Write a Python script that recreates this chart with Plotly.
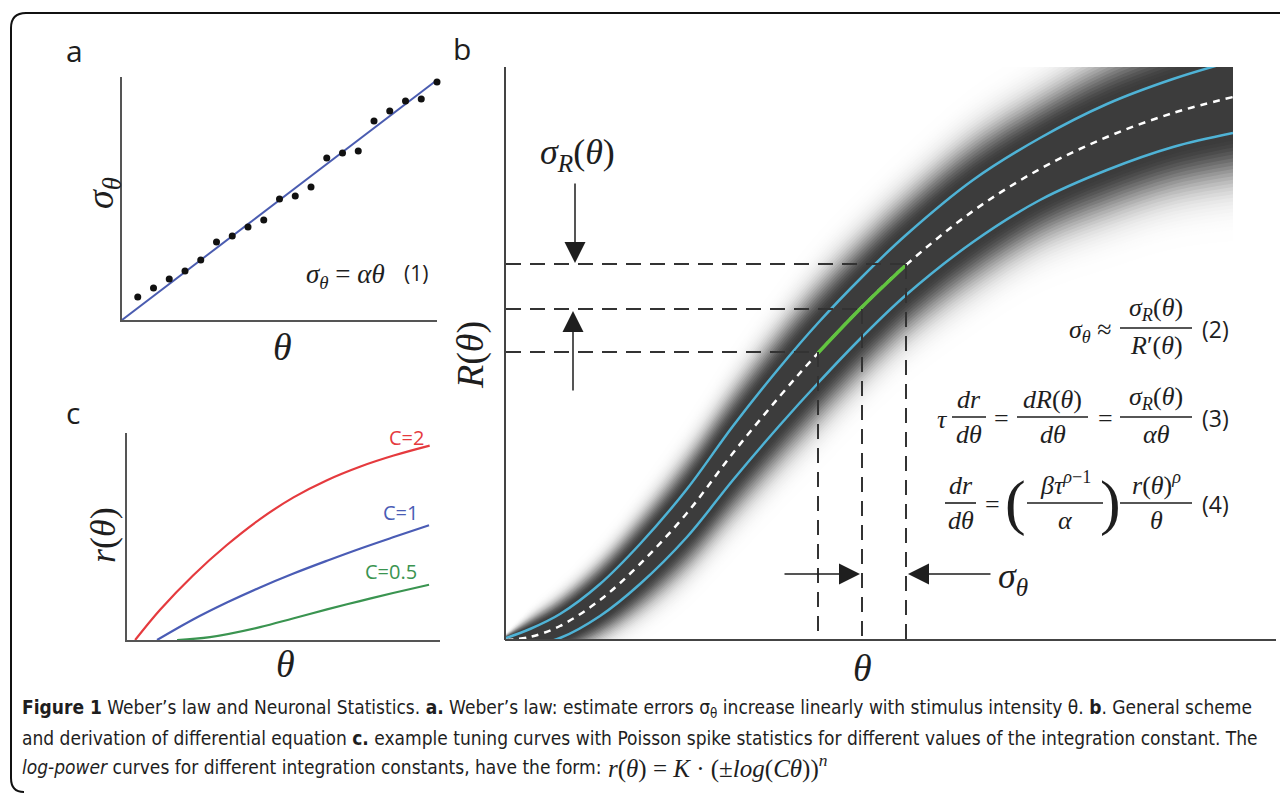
import math
import plotly.graph_objects as go

W, H = 1280, 793
def px(x): return x / W
def py(y): return 1 - y / H

# ---------------- data ----------------
# panel a : Weber's law scatter
a_theta = list(range(1, 21))
a_sigma = [1.92, 2.67, 3.42, 4.08, 5.0, 6.5, 7.0, 7.75, 8.33, 10.08,
           10.33, 11.08, 13.5, 13.92, 14.08, 16.58, 17.42, 18.25, 18.42, 19.83]
a_fit_theta = [0, 20]
a_fit_sigma = [0, 20]

# panel c : log-power tuning curves
c2_theta = [0.26, 1.05, 2.11, 3.19, 4.25, 5.32, 6.39, 7.44, 8.52, 9.67]
c2_r = [0, 1.45, 3.12, 4.59, 5.84, 6.89, 7.72, 8.37, 8.91, 9.39]
c1_theta = [0.96, 2.11, 3.19, 4.25, 5.30, 6.39, 7.44, 8.50, 9.65]
c1_r = [0, 0.99, 1.81, 2.54, 3.20, 3.83, 4.41, 4.96, 5.54]
c05_theta = [1.6, 2.65, 4.25, 5.30, 6.39, 7.44, 8.50, 9.65]
c05_r = [0, 0.14, 0.62, 1.04, 1.48, 1.88, 2.27, 2.67]
c_labels = ["C=2", "C=1", "C=0.5"]

# panel b : tuning curve R(theta) with noise band
b_theta = [0, 24, 54, 94, 134, 181, 227, 274, 312, 356, 400, 467, 534, 601, 667, 727]
b_R = [0, 3, 14, 40, 76, 127, 187, 244, 287, 333, 375, 429, 471, 503, 527, 543]
b_R_upper = [2, 11, 26, 56, 96, 151, 214, 273, 317, 363, 405, 460, 502, 536, 561, 579]
b_R_lower = [-2, -5, 2, 24, 56, 103, 160, 215, 257, 303, 345, 398, 440, 470, 493, 507]
b_green_theta = [312, 356, 400]
b_green_R = [287, 333, 375]
b_levels_R = [376, 331, 288]       # dashed horizontal levels
b_levels_theta = [400, 356, 312]   # dashed vertical positions

# ---------------- figure ----------------
fig = go.Figure()
shapes, annotations = [], []
SERIF = "Liberation Serif, DejaVu Serif, serif"
SANS = "Open Sans, Noto Sans, sans-serif"
INK = "#1e1e1e"

# blurred band (panel b)
ks = [round(4.6 - 0.1 * i, 2) for i in range(37)]
for k in ks:
    f = 1.0 if k <= 1.15 else math.exp(-((k - 1.15) / 1.2) ** 2)
    g = int(round(255 - (255 - 60) * f))
    up = [c + k * (u - c) for c, u in zip(b_R, b_R_upper)]
    lo = [c + k * (l - c) for c, l in zip(b_R, b_R_lower)]
    fig.add_trace(go.Scatter(x=b_theta, y=lo, mode="lines", line=dict(width=0, shape="spline"),
                             xaxis="x2", yaxis="y2", showlegend=False, hoverinfo="skip"))
    fig.add_trace(go.Scatter(x=b_theta, y=up, mode="lines", line=dict(width=0, shape="spline"),
                             fill="tonexty", fillcolor=f"rgb({g},{g},{g})",
                             xaxis="x2", yaxis="y2", showlegend=False, hoverinfo="skip"))

BLUE_B = "#4fb3d6"
for yy in (b_R_upper, b_R_lower):
    fig.add_trace(go.Scatter(x=b_theta, y=yy, mode="lines", line=dict(color=BLUE_B, width=2.5, shape="spline"),
                             xaxis="x2", yaxis="y2", showlegend=False, hoverinfo="skip"))
fig.add_trace(go.Scatter(x=b_theta, y=b_R, mode="lines",
                         line=dict(color="white", width=2.5, dash="7px,6px", shape="spline"),
                         xaxis="x2", yaxis="y2", showlegend=False, hoverinfo="skip"))
fig.add_trace(go.Scatter(x=b_green_theta, y=b_green_R, mode="lines",
                         line=dict(color="#62c540", width=3.5, shape="spline"),
                         xaxis="x2", yaxis="y2", showlegend=False, hoverinfo="skip"))

# panel a
fig.add_trace(go.Scatter(x=a_fit_theta, y=a_fit_sigma, mode="lines", line=dict(color="#4a5cb0", width=2),
                         xaxis="x", yaxis="y", showlegend=False, cliponaxis=False))
fig.add_trace(go.Scatter(x=a_theta, y=a_sigma, mode="markers", marker=dict(color="#111", size=7),
                         xaxis="x", yaxis="y", showlegend=False, cliponaxis=False))

# panel c
c_colors = ["#e53a3e", "#4a5cb5", "#3a9450"]
for xs, ys, col in ((c2_theta, c2_r, c_colors[0]), (c1_theta, c1_r, c_colors[1]), (c05_theta, c05_r, c_colors[2])):
    fig.add_trace(go.Scatter(x=xs, y=ys, mode="lines", line=dict(color=col, width=2.2, shape="spline"),
                             xaxis="x3", yaxis="y3", showlegend=False, cliponaxis=False))

# ---------------- helpers ----------------
def txt(x, y, s, size, color=INK, font=SERIF, xanchor="center", yanchor="middle", angle=0):
    annotations.append(dict(x=px(x), y=py(y), xref="paper", yref="paper", text=s, showarrow=False,
                            font=dict(size=size, color=color, family=font),
                            xanchor=xanchor, yanchor=yanchor, textangle=angle))

def hline(x0, x1, y, width=1.6, color=INK):
    shapes.append(dict(type="line", xref="paper", yref="paper", x0=px(x0), x1=px(x1), y0=py(y), y1=py(y),
                       line=dict(color=color, width=width)))

def frac(x0, x1, y, num, den, size=26):
    hline(x0, x1, y)
    txt((x0 + x1) / 2, y - 1, num, size, yanchor="bottom")
    txt((x0 + x1) / 2, y + 1, den, size, yanchor="top")

def arrow(xt, yt, xtail, ytail):
    annotations.append(dict(x=px(xt), y=py(yt), xref="paper", yref="paper", text="", showarrow=True,
                            ax=xtail - xt, ay=ytail - yt, arrowhead=2, arrowsize=2.8, arrowwidth=1.5,
                            arrowcolor=INK, standoff=0))

# outer rounded border
shapes.append(dict(type="path", xref="paper", yref="paper",
                   path=f"M {px(1290)},{py(13)} L {px(26)},{py(13)} Q {px(11)},{py(13)} {px(11)},{py(28)} "
                        f"L {px(11)},{py(778)} Q {px(11)},{py(792)} {px(24)},{py(792)}",
                   line=dict(color="#111", width=2)))

# panel b axis (x) extended
shapes.append(dict(type="line", xref="paper", yref="paper", x0=px(505), x1=px(1276), y0=py(640), y1=py(640),
                   line=dict(color="#444", width=2)))

# dashed guide lines (panel b)
for R, th in zip(b_levels_R, b_levels_theta):
    shapes.append(dict(type="line", xref="x2", yref="y2", x0=0, x1=th, y0=R, y1=R,
                       line=dict(color="#333", width=2, dash="15px,9px")))
    shapes.append(dict(type="line", xref="x2", yref="y2", x0=th, x1=th, y0=R, y1=0,
                       line=dict(color="#333", width=2, dash="15px,9px")))

# arrows
arrow(575, 263, 575, 182)
arrow(573, 311, 573, 392)
arrow(860, 574, 783, 574)
arrow(908, 574, 992, 574)

# panel labels
txt(74, 50, "a", 30, font=SANS)
txt(462, 48, "b", 30, font=SANS)
txt(73, 412, "c", 30, font=SANS)

# axis labels
txt(103, 193, "<i>σ<sub>θ</sub></i>", 38, angle=-90)
txt(282, 347, "<i>θ</i>", 38)
txt(103, 535, "<i>r</i>(<i>θ</i>)", 36, angle=-90)
txt(285, 664, "<i>θ</i>", 38)
txt(470, 355, "<i>R</i>(<i>θ</i>)", 38, angle=-90)
txt(862, 668, "<i>θ</i>", 38)
txt(577, 155, "<i>σ<sub>R</sub></i>(<i>θ</i>)", 36)
txt(996, 578, "<i>σ<sub>θ</sub></i>", 36, xanchor="left")

# panel a equation
txt(387, 276, "<i>σ<sub>θ</sub></i> = <i>αθ</i>", 27, xanchor="right")
txt(416, 273, "(1)", 21, font=SANS)

# panel c labels
txt(406, 437, c_labels[0], 20, color=c_colors[0], font=SANS)
txt(400, 512, c_labels[1], 20, color=c_colors[1], font=SANS)
txt(391, 571, c_labels[2], 20, color=c_colors[2], font=SANS)

# equations (panel b)
txt(1114, 331, "<i>σ<sub>θ</sub></i> ≈", 26, xanchor="right")
frac(1120, 1192, 328, "<i>σ<sub>R</sub></i>(<i>θ</i>)", "<i>R</i>′(<i>θ</i>)")
txt(1215, 329, "(2)", 23, font=SANS)

txt(942, 419, "<i>τ</i>", 26)
frac(952, 986, 417, "<i>dr</i>", "<i>dθ</i>")
txt(1001, 418, "=", 26)
frac(1017, 1088, 417, "<i>dR</i>(<i>θ</i>)", "<i>dθ</i>")
txt(1105, 418, "=", 26)
frac(1120, 1192, 417, "<i>σ<sub>R</sub></i>(<i>θ</i>)", "<i>αθ</i>")
txt(1215, 418, "(3)", 23, font=SANS)

frac(945, 976, 503, "<i>dr</i>", "<i>dθ</i>")
txt(992, 504, "=", 26)
txt(1015, 502, "(", 62, font=SERIF)
frac(1027, 1103, 503, "<i>βτ</i><sup><i>ρ</i>−1</sup>", "<i>α</i>")
txt(1110, 502, ")", 62, font=SERIF)
frac(1120, 1192, 503, "<i>r</i>(<i>θ</i>)<sup><i>ρ</i></sup>", "<i>θ</i>")
txt(1215, 504, "(4)", 23, font=SANS)

# caption
CAP = "Liberation Sans Narrow, DejaVu Sans Condensed, sans-serif"
txt(20, 708, "<b>Figure 1</b> Weber’s law and Neuronal Statistics. <b>a.</b> Weber’s law: estimate errors "
             "σ<sub>θ</sub> increase linearly with stimulus intensity θ. <b>b</b>. General scheme",
    19, font=CAP, xanchor="left")
txt(20, 738, "and derivation of differential equation <b>c.</b> example tuning curves with Poisson spike "
             "statistics for different values of the integration constant. The",
    19, font=CAP, xanchor="left")
txt(20, 767, "<i>log-power</i> curves for different integration constants, have the form:",
    19, font=CAP, xanchor="left")
txt(606, 766, "<i>r</i>(<i>θ</i>) = <i>K</i> · (±<i>log</i>(<i>Cθ</i>))<sup><i>n</i></sup>",
    25, font=SERIF, xanchor="left")

# ---------------- axes ----------------
def ax(domain, rng, anchor, line=True, color="#555"):
    return dict(domain=domain, range=rng, anchor=anchor, showgrid=False, zeroline=False,
                showticklabels=False, ticks="", showline=line, linecolor=color, linewidth=2,
                fixedrange=True)

fig.update_layout(
    width=W, height=H, margin=dict(l=0, r=0, t=0, b=0),
    paper_bgcolor="white", plot_bgcolor="rgba(0,0,0,0)",
    xaxis=ax([px(122), px(437)], [0, 20], "y"),
    yaxis=ax([py(320), py(77)], [0, 20.25], "x"),
    xaxis2=ax([px(506), px(1233)], [0, 727], "y2", line=False),
    yaxis2=ax([py(640), py(67)], [0, 573], "x2", color="#444"),
    xaxis3=ax([px(127), px(440)], [0, 10], "y3"),
    yaxis3=ax([py(640), py(433)], [0, 10], "x3"),
    shapes=shapes, annotations=annotations, showlegend=False,
)

fig.write_html("out.html", config={"displayModeBar": False},
               post_script="document.body.style.margin='0px';")
